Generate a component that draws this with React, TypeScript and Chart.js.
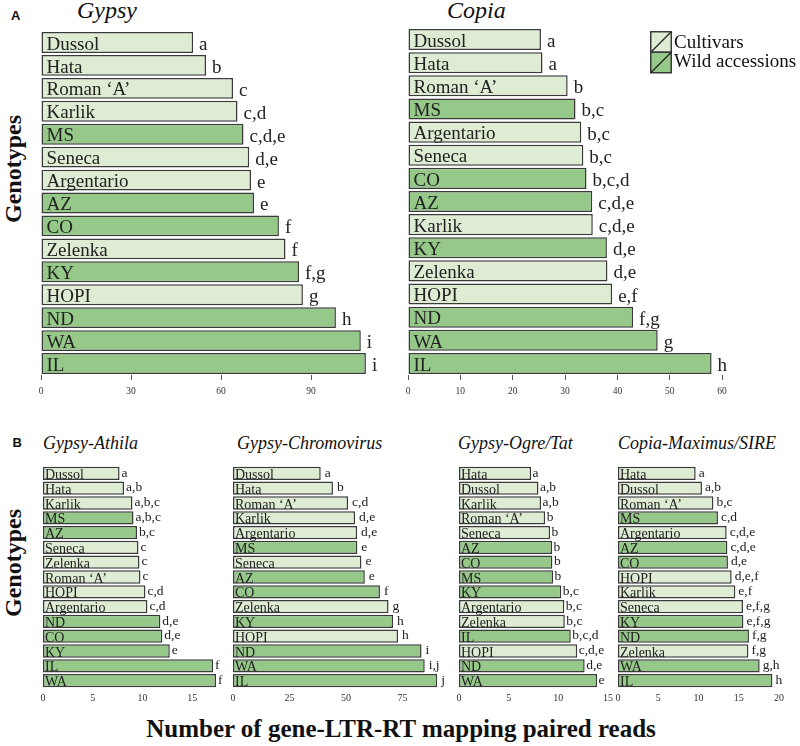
import React, { useEffect, useRef } from "react";
import { Chart, registerables } from "chart.js";

Chart.register(...registerables);

// ---------------- DATA ----------------
const cultivarNames = ["Dussol", "Hata", "Roman ‘A’", "Karlik", "Seneca", "Argentario", "Zelenka", "HOPI"];

const gypsyNames = ["Dussol", "Hata", "Roman ‘A’", "Karlik", "MS", "Seneca", "Argentario", "AZ", "CO", "Zelenka", "KY", "HOPI", "ND", "WA", "IL"];
const gypsyValues = [50.7, 55, 64, 65.5, 67.5, 69.4, 70, 71, 79.3, 81.5, 86, 87.3, 98.3, 106.6, 108.3];
const gypsyLetters = ["a", "b", "c", "c,d", "c,d,e", "d,e", "e", "e", "f", "f", "f,g", "g", "h", "i", "i"];
const gypsyTicks = [0, 30, 60, 90];

const copiaNames = ["Dussol", "Hata", "Roman ‘A’", "MS", "Argentario", "Seneca", "CO", "AZ", "Karlik", "KY", "Zelenka", "HOPI", "ND", "WA", "IL"];
const copiaValues = [25.4, 25.7, 30.5, 32, 33.1, 33.5, 34.1, 35.2, 35.3, 38, 38.1, 39, 43, 47.7, 58];
const copiaLetters = ["a", "a", "b", "b,c", "b,c", "b,c", "b,c,d", "c,d,e", "c,d,e", "d,e", "d,e", "e,f", "f,g", "g", "h"];
const copiaTicks = [0, 10, 20, 30, 40, 50, 60];

const athilaNames = ["Dussol", "Hata", "Karlik", "MS", "AZ", "Seneca", "Zelenka", "Roman ‘A’", "HOPI", "Argentario", "ND", "CO", "KY", "IL", "WA"];
const athilaValues = [7.7, 8.15, 9.0, 9.1, 9.45, 9.6, 9.7, 9.8, 10.3, 10.5, 11.8, 12.0, 12.75, 17.1, 17.4];
const athilaLetters = ["a", "a,b", "a,b,c", "a,b,c", "b,c", "c", "c", "c", "c,d", "c,d", "d,e", "d,e", "e", "f", "f"];
const athilaTicks = [0, 5, 10, 15];

const chromoNames = ["Dussol", "Hata", "Roman ‘A’", "Karlik", "Argentario", "MS", "Seneca", "AZ", "CO", "Zelenka", "KY", "HOPI", "ND", "WA", "IL"];
const chromoValues = [38.8, 44.2, 50.9, 54, 54.9, 55, 56.8, 58.3, 65, 68.8, 70.8, 73, 83.4, 84.8, 90.3];
const chromoLetters = ["a", "b", "c,d", "d,e", "d,e", "e", "e", "e", "f", "g", "h", "h", "i", "i,j", "j"];
const chromoTicks = [0, 25, 50, 75];

const ogreNames = ["Hata", "Dussol", "Karlik", "Roman ‘A’", "Seneca", "AZ", "CO", "MS", "KY", "Argentario", "Zelenka", "IL", "HOPI", "ND", "WA"];
const ogreValues = [7.26, 8.0, 8.26, 8.67, 9.17, 9.37, 9.4, 9.47, 10.3, 10.6, 10.65, 11.25, 11.9, 12.65, 13.9];
const ogreLetters = ["a", "a,b", "a,b", "b", "b", "b", "b", "b", "b,c", "b,c", "b,c", "b,c,d", "c,d,e", "d,e", "e"];
const ogreTicks = [0, 5, 10, 15];

const sireNames = ["Hata", "Dussol", "Roman ‘A’", "MS", "Argentario", "AZ", "CO", "HOPI", "Karlik", "Seneca", "KY", "ND", "Zelenka", "WA", "IL"];
const sireValues = [9.65, 10.43, 11.85, 12.42, 13.5, 13.59, 13.66, 14.12, 14.58, 15.53, 15.58, 16.27, 16.2, 17.6, 19.18];
const sireLetters = ["a", "a,b", "b,c", "c,d", "c,d,e", "c,d,e", "d,e", "d,e,f", "e,f", "e,f,g", "e,f,g", "f,g", "f,g", "g,h", "h"];
const sireTicks = [0, 5, 10, 15, 20];

// ---------------- STYLE ----------------
const LIGHT = "rgb(222,236,211)";
const DARK = "rgb(149,200,137)";
const EDGE = "#3a3a3a";
const TEXT = "#222";
const SERIF = '"Liberation Serif", "Times New Roman", serif';
const SANS = '"Liberation Sans", Arial, sans-serif';

type Layout = {
  left: number; // pixel of value 0
  top: number; // chart area top
  bottom: number; // chart area bottom
  ppu: number; // pixels per unit
  max: number;
  tickFont: number;
  tickLen: number;
  tickPad: number;
  axisH: number;
  nameSize: number;
  nameDx: number;
  nameRise: number;
  letterSize: number;
  letterDx: number;
  letterRise: number;
  barPct: number;
};

const layoutA = { top: 0, bottom: 0, tickFont: 9.5, tickLen: 5, tickPad: 6, axisH: 26, nameSize: 19, nameDx: 5, nameRise: 3.3, letterSize: 19, letterDx: 6, letterRise: 3, barPct: 0.91 };
const layoutB = { top: 466.3, bottom: 688.1, tickFont: 10, tickLen: 0, tickPad: 4, axisH: 20, nameSize: 14, nameDx: 2, nameRise: 1, letterSize: 13.5, letterDx: 2, letterRise: 3.5, barPct: 0.9 };

type PanelProps = { names: string[]; values: number[]; letters: string[]; ticks: number[]; lay: Layout };

function BarPanel({ names, values, letters, ticks, lay }: PanelProps) {
  const ref = useRef<HTMLCanvasElement | null>(null);
  const padL = 14, padR = 46, padT = 2;
  const W = Math.round(padL + padR + lay.max * lay.ppu);
  const H = Math.round(padT + (lay.bottom - lay.top) + lay.axisH);
  const cLeft = lay.left - padL;
  const cTop = lay.top - padT;

  useEffect(() => {
    if (!ref.current) return;
    const textPlugin = {
      id: "barText",
      afterDatasetsDraw(chart: any) {
        const ctx = chart.ctx;
        const meta = chart.getDatasetMeta(0);
        ctx.save();
        ctx.fillStyle = TEXT;
        ctx.textAlign = "left";
        ctx.textBaseline = "alphabetic";
        meta.data.forEach((el: any, i: number) => {
          const p = el.getProps(["x", "y", "base", "height"], true);
          const bottom = p.y + p.height / 2;
          ctx.font = `${lay.nameSize}px ${SERIF}`;
          ctx.fillText(names[i], p.base + lay.nameDx, bottom - lay.nameRise);
          ctx.font = `${lay.letterSize}px ${SERIF}`;
          ctx.fillText(letters[i], p.x + lay.letterDx, bottom - lay.letterRise);
        });
        ctx.restore();
      },
    };
    const chart = new Chart(ref.current, {
      type: "bar",
      data: {
        labels: names,
        datasets: [
          {
            data: values,
            backgroundColor: names.map((n) => (cultivarNames.includes(n) ? LIGHT : DARK)),
            borderColor: EDGE,
            borderWidth: 1.5,
            borderSkipped: false,
            barPercentage: lay.barPct,
            categoryPercentage: 1,
          },
        ],
      },
      options: {
        indexAxis: "y",
        responsive: false,
        animation: false,
        devicePixelRatio: 1,
        layout: { padding: { left: padL, right: padR, top: padT, bottom: 0 } },
        plugins: { legend: { display: false }, tooltip: { enabled: false } },
        events: [],
        scales: {
          y: { type: "category", display: false, offset: true },
          x: {
            type: "linear",
            min: 0,
            max: lay.max,
            afterBuildTicks: (s: any) => {
              s.ticks = ticks.map((v) => ({ value: v }));
            },
            afterFit: (s: any) => {
              s.height = lay.axisH;
            },
            border: { display: false },
            grid: {
              display: lay.tickLen > 0,
              drawOnChartArea: false,
              drawTicks: lay.tickLen > 0,
              tickLength: lay.tickLen,
              color: "#555",
              lineWidth: 1,
            },
            ticks: {
              font: { family: SERIF, size: lay.tickFont },
              color: "#333",
              padding: lay.tickPad,
              maxRotation: 0,
              autoSkip: false,
            },
          },
        },
      } as any,
      plugins: [textPlugin],
    });
    return () => chart.destroy();
  }, []);

  return (
    <canvas
      ref={ref}
      width={W}
      height={H}
      style={{ position: "absolute", left: cLeft, top: cTop, width: W, height: H }}
    />
  );
}

function Txt(props: { x: number; base: number; size: number; text: string; family?: string; bold?: boolean; italic?: boolean; center?: boolean }) {
  const fam = props.family || SERIF;
  const k = fam === SANS ? 0.8465 : 0.8375;
  return (
    <div
      style={{
        position: "absolute",
        left: props.x,
        top: props.base - k * props.size,
        fontFamily: fam,
        fontSize: props.size,
        lineHeight: 1,
        fontWeight: props.bold ? "bold" : "normal",
        fontStyle: props.italic ? "italic" : "normal",
        whiteSpace: "nowrap",
        color: "#111",
        transform: props.center ? "translateX(-50%)" : undefined,
      }}
    >
      {props.text}
    </div>
  );
}

function VText(props: { cx: number; cy: number; size: number; text: string }) {
  return (
    <div
      style={{
        position: "absolute",
        left: props.cx,
        top: props.cy,
        fontFamily: SERIF,
        fontSize: props.size,
        lineHeight: 1,
        fontWeight: "bold",
        whiteSpace: "nowrap",
        color: "#111",
        transform: "translate(-50%, -50%) rotate(-90deg)",
      }}
    >
      {props.text}
    </div>
  );
}

export default function App() {
  const gy: Layout = { ...layoutA, left: 41.3, top: 31.3, bottom: 375.1, ppu: 3.0, max: 115 } as Layout;
  const co: Layout = { ...layoutA, left: 408, top: 28, bottom: 375.1, ppu: 5.23, max: 64 } as Layout;
  const at: Layout = { ...layoutB, left: 42.7, ppu: 9.93, max: 18 } as Layout;
  const ch: Layout = { ...layoutB, left: 233.3, ppu: 2.26, max: 92, letterDx: 4 } as Layout;
  const og: Layout = { ...layoutB, left: 458.7, ppu: 9.92, max: 15.2, letterDx: 1.5 } as Layout;
  const si: Layout = { ...layoutB, left: 618.3, ppu: 8.05, max: 20.5, letterDx: 3 } as Layout;

  return (
    <div style={{ position: "absolute", left: 0, top: 0, width: 800, height: 746, background: "#fff", overflow: "hidden" }}>
      <Txt x={11} base={20.5} size={13} text="A" family={SANS} bold />
      <Txt x={77} base={18.3} size={24} text="Gypsy" italic />
      <Txt x={447} base={18.3} size={24} text="Copia" italic />
      <VText cx={13} cy={169} size={24} text="Genotypes" />

      <BarPanel names={gypsyNames} values={gypsyValues} letters={gypsyLetters} ticks={gypsyTicks} lay={gy} />
      <BarPanel names={copiaNames} values={copiaValues} letters={copiaLetters} ticks={copiaTicks} lay={co} />

      <svg style={{ position: "absolute", left: 650, top: 31 }} width={23} height={43}>
        <rect x={0.75} y={0.75} width={20.5} height={20.5} fill={LIGHT} stroke={EDGE} strokeWidth={1.5} />
        <line x1={0.75} y1={21.25} x2={21.25} y2={0.75} stroke="#222" strokeWidth={1.3} />
        <rect x={0.75} y={21.25} width={20.5} height={20.5} fill={DARK} stroke={EDGE} strokeWidth={1.5} />
        <line x1={0.75} y1={41.75} x2={21.25} y2={21.25} stroke="#222" strokeWidth={1.3} />
      </svg>
      <Txt x={674} base={48} size={19} text="Cultivars" />
      <Txt x={674} base={66.5} size={19} text="Wild accessions" />

      <Txt x={12.5} base={447.3} size={13} text="B" family={SANS} bold />
      <Txt x={43} base={449} size={18} text="Gypsy-Athila" italic />
      <Txt x={237} base={449} size={18} text="Gypsy-Chromovirus" italic />
      <Txt x={458} base={449} size={18} text="Gypsy-Ogre/Tat" italic />
      <Txt x={618} base={449} size={18} text="Copia-Maximus/SIRE" italic />
      <VText cx={13} cy={563} size={24} text="Genotypes" />

      <BarPanel names={athilaNames} values={athilaValues} letters={athilaLetters} ticks={athilaTicks} lay={at} />
      <BarPanel names={chromoNames} values={chromoValues} letters={chromoLetters} ticks={chromoTicks} lay={ch} />
      <BarPanel names={ogreNames} values={ogreValues} letters={ogreLetters} ticks={ogreTicks} lay={og} />
      <BarPanel names={sireNames} values={sireValues} letters={sireLetters} ticks={sireTicks} lay={si} />

      <Txt x={401} base={737} size={25} text="Number of gene-LTR-RT mapping paired reads" bold center />
    </div>
  );
}
